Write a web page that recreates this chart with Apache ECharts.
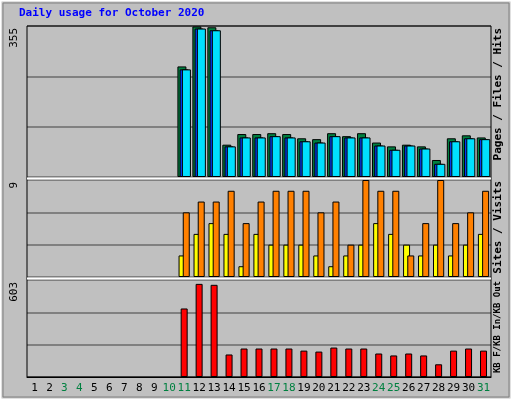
<!DOCTYPE html><html><head><meta charset="utf-8">
<script src="https://cdn.jsdelivr.net/npm/echarts@6/dist/echarts.min.js"></script>
<style>body{margin:0;background:#c0c0c0}#c{width:512px;height:400px}</style></head><body><div id="c"></div>
<script>
var days=[];for(var i=1;i<=31;i++)days.push(String(i));
var weekendDays=['3','4','10','11','17','18','24','25','31'];
var hits=[0,0,0,0,0,0,0,0,0,0,260,354,352,76,101,101,103,101,91,89,103,96,103,81,72,76,72,40,91,98,93];
var files=[0,0,0,0,0,0,0,0,0,0,253,349,345,72,93,93,96,93,84,81,96,93,93,74,64,74,67,31,84,91,89];
var pages=[0,0,0,0,0,0,0,0,0,0,253,349,345,72,93,93,96,93,84,81,96,93,93,74,64,74,67,31,84,91,89];
var sites=[0,0,0,0,0,0,0,0,0,0,2,4,5,4,1,4,3,3,3,2,1,2,3,5,4,3,2,3,2,3,4];
var visits=[0,0,0,0,0,0,0,0,0,0,6,7,7,8,5,7,8,8,8,6,7,3,9,8,8,2,5,9,5,6,8];
var kbytes=[0,0,0,0,0,0,0,0,0,0,426,579,573,140,177,177,177,177,164,158,183,177,177,146,134,146,134,79,164,177,164];
var maxLabels=[355,9,603];
function nz(a){return a.map(function(v){return v===0?null:v;});}
var L=27,R=21,F='DejaVu Sans Mono';
var grids=[{left:L,right:R,top:26,height:151},{left:L,right:R,top:180,height:97},{left:L,right:R,top:280,height:97}];
function xa(i,show){return {type:'category',gridIndex:i,data:days,axisTick:{show:false},axisLine:{show:i==2,lineStyle:{color:'#000'}},
 axisLabel:{show:show,interval:0,color:function(v){return weekendDays.indexOf(v)>=0?'#008040':'#000';},fontFamily:F,fontSize:11,margin:6}};}
function ya(i,max){return {type:'value',gridIndex:i,min:0,max:max,interval:max/3,axisLabel:{show:false},axisLine:{show:false},axisTick:{show:false},splitLine:{lineStyle:{color:'#808080',width:2}}};}
var bs={borderColor:'#000',borderWidth:1};
var ch=echarts.init(document.getElementById('c'));
function rt(x,y,fs,parts){var rich={},s='';parts.forEach(function(p,k){rich['a'+k]={color:p[1],fontFamily:F,fontSize:fs,fontWeight:'bold'};s+='{a'+k+'|'+p[0]+'}';});
 return {type:'text',x:x,y:y,rotation:Math.PI/2,style:{text:s,rich:rich,align:'right',verticalAlign:'middle'}};}
ch.setOption({animation:false,backgroundColor:'#c0c0c0',grid:grids,
 xAxis:[xa(0,false),xa(1,false),xa(2,true)],yAxis:[ya(0,maxLabels[0]),ya(1,maxLabels[1]),ya(2,maxLabels[2])],
 series:[
 {type:'bar',xAxisIndex:0,yAxisIndex:0,data:nz(hits),barWidth:9,barGap:'-65%',itemStyle:Object.assign({color:'#008040'},bs)},
 {type:'bar',xAxisIndex:0,yAxisIndex:0,data:nz(files),barWidth:9,barGap:'-75%',itemStyle:Object.assign({color:'#0040ff'},bs)},
 {type:'bar',xAxisIndex:0,yAxisIndex:0,data:nz(pages),barWidth:9,barGap:'-75%',itemStyle:Object.assign({color:'#00e0ff'},bs)},
 {type:'bar',xAxisIndex:1,yAxisIndex:1,data:nz(sites),barWidth:7,barGap:'-40%',itemStyle:Object.assign({color:'#ffff00'},bs)},
 {type:'bar',xAxisIndex:1,yAxisIndex:1,data:nz(visits),barWidth:7,barGap:'-40%',itemStyle:Object.assign({color:'#ff8000'},bs)},
 {type:'bar',xAxisIndex:2,yAxisIndex:2,data:nz(kbytes),barWidth:7,itemStyle:Object.assign({color:'#ff0000'},bs)}],
 graphic:[
 {type:'rect',shape:{x:0.5,y:0.5,width:511,height:399},style:{fill:null,stroke:'#fff',lineWidth:2},z:0},
 {type:'rect',shape:{x:3,y:3,width:506,height:394},style:{fill:null,stroke:'#808080',lineWidth:1}},
 {type:'rect',shape:{x:L,y:26,width:512-L-R,height:351},style:{fill:null,stroke:'#000',lineWidth:1},z:10},
 {type:'line',shape:{x1:L,y1:178.5,x2:512-R,y2:178.5},style:{stroke:'#fff',lineWidth:2},z:10},
 {type:'line',shape:{x1:L,y1:278.5,x2:512-R,y2:278.5},style:{stroke:'#fff',lineWidth:2},z:10},
 {type:'text',left:19,top:8,style:{text:'Daily usage for October 2020',fill:'#0000ff',font:'bold 11px DejaVu Sans Mono'}},
 {type:'text',x:14,y:28,rotation:Math.PI/2,style:{text:String(maxLabels[0]),fill:'#000',font:'11px DejaVu Sans Mono',align:'right',verticalAlign:'middle'}},
 {type:'text',x:14,y:182,rotation:Math.PI/2,style:{text:String(maxLabels[1]),fill:'#000',font:'11px DejaVu Sans Mono',align:'right',verticalAlign:'middle'}},
 {type:'text',x:14,y:282,rotation:Math.PI/2,style:{text:String(maxLabels[2]),fill:'#000',font:'11px DejaVu Sans Mono',align:'right',verticalAlign:'middle'}},
 rt(498,28,11,[['Pages','#00c0ff'],[' / ','#000'],['Files','#0040ff'],[' / ','#000'],['Hits','#008040']]),
 rt(498,181,11,[['Sites','#ff8000'],[' / ','#000'],['Visits','#e0e000']]),
 rt(498,281,9,[['KB F','#ff0000'],['/','#000'],['KB In','#0080ff'],['/','#000'],['KB Out','#00c000']])
 ]});
</script></body></html>
